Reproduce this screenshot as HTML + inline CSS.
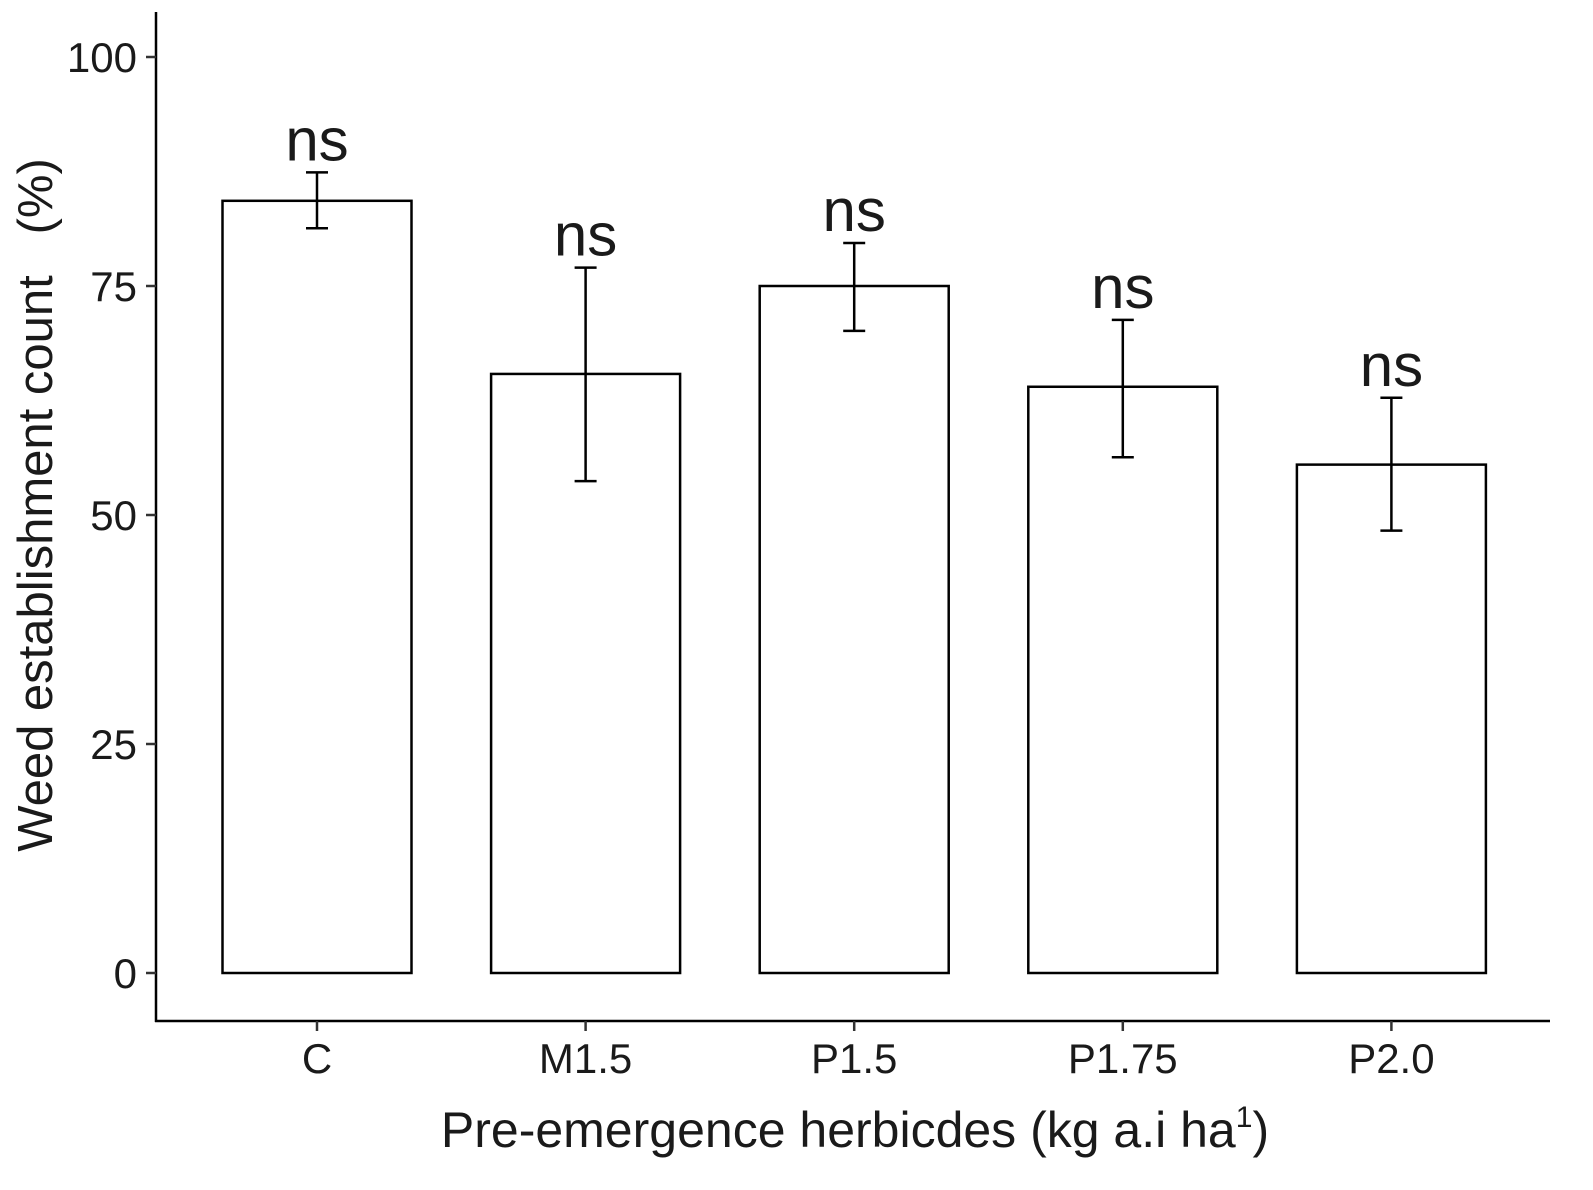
<!DOCTYPE html>
<html><head><meta charset="utf-8"><style>
html,body{margin:0;padding:0;background:#fff}
svg{display:block}
text{font-family:"Liberation Sans",Arial,sans-serif;fill:#1a1a1a}
</style></head><body>
<svg id="chart" width="1593" height="1190" viewBox="0 0 1593 1190" xmlns="http://www.w3.org/2000/svg">
<g id="axes"></g>
<g id="bars"></g>
<text transform="translate(52,505) rotate(-90)" text-anchor="middle" font-size="49" xml:space="preserve">Weed establishment count   (%)</text>
<text x="855" y="1147" text-anchor="middle" font-size="50">Pre-emergence herbicdes (kg a.i ha<tspan dy="-20" font-size="30">1</tspan><tspan dy="20">)</tspan></text>
</svg>
<script>
const categories = ["C","M1.5","P1.5","P1.75","P2.0"];
const values = [84.3, 65.4, 75.0, 64.0, 55.5];
const errLow = [81.3, 53.7, 70.1, 56.3, 48.3];
const errHigh = [87.4, 77.0, 79.7, 71.3, 62.8];
const labels = ["ns","ns","ns","ns","ns"];
const yTicks = [0, 25, 50, 75, 100];

const NS = "http://www.w3.org/2000/svg";
function y(v){ return 973 - v * 9.16; }
function x(i){ return 317 + i * 268.6; }
const barW = 189;
function mk(tag, attrs, parent){ const e=document.createElementNS(NS,tag); for(const k in attrs) e.setAttribute(k, attrs[k]); parent.appendChild(e); return e; }

const axes = document.getElementById('axes');
const yl = mk('line',{x1:156,y1:12,x2:156,y2:1022,stroke:'#000','stroke-width':2.5},axes);


const xl = mk('line',{x1:155,y1:1021,x2:1550,y2:1021,stroke:'#000','stroke-width':2.5},axes);


yTicks.forEach(t=>{
  const tk = mk('line',{x1:146,y1:y(t),x2:156,y2:y(t),stroke:'#333','stroke-width':2.5},axes);
  
  
  const tl = mk('text',{x:137,y:y(t)+15,'text-anchor':'end','font-size':42,fill:'#4d4d4d'},axes);
  tl.textContent = t;
  
  
});
categories.forEach((c,i)=>{
  const tk = mk('line',{x1:x(i),y1:1021,x2:x(i),y2:1031,stroke:'#333','stroke-width':2.5},axes);
  
  
  const tl = mk('text',{x:x(i),y:1073,'text-anchor':'middle','font-size':42,fill:'#4d4d4d'},axes);
  tl.textContent = c;
  
  
});
const bars = document.getElementById('bars');
values.forEach((v,i)=>{
  const r = mk('rect',{x:x(i)-barW/2,y:y(v),width:barW,height:y(0)-y(v),fill:'#fff',stroke:'#000','stroke-width':2.5},bars);
  
  
  const g = mk('g',{stroke:'#000','stroke-width':2.5},bars);
  
  
  mk('line',{x1:x(i),x2:x(i),y1:y(errLow[i]),y2:y(errHigh[i])},g);
  mk('line',{x1:x(i)-11,x2:x(i)+11,y1:y(errLow[i]),y2:y(errLow[i])},g);
  mk('line',{x1:x(i)-11,x2:x(i)+11,y1:y(errHigh[i]),y2:y(errHigh[i])},g);
  const t = mk('text',{x:x(i),y:y(errHigh[i])-12,'text-anchor':'middle','font-size':60,fill:'#000'},bars);
  t.textContent = labels[i];
  
  
});
</script>
</body></html>
